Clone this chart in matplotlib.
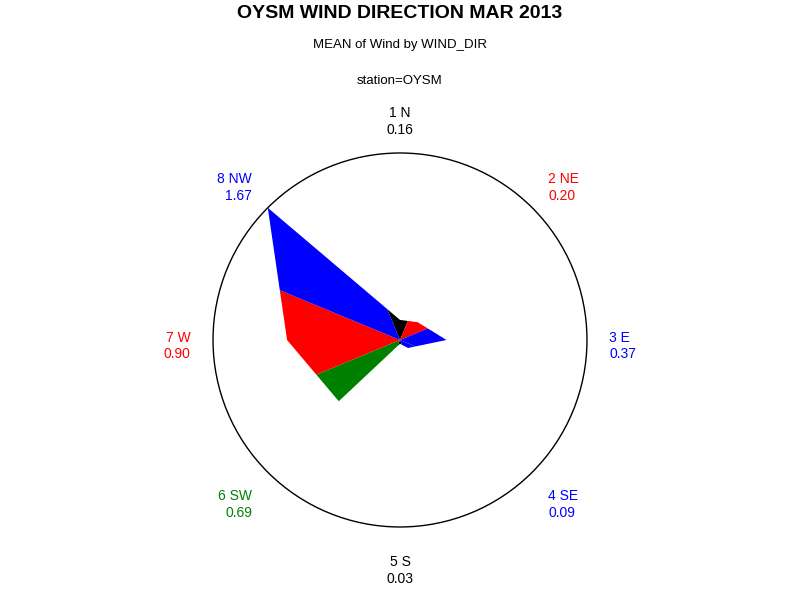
import numpy as np
import matplotlib
matplotlib.use("Agg")
import matplotlib.pyplot as plt
from matplotlib.patches import Circle

plt.rcParams['font.family'] = ['Liberation Sans', 'DejaVu Sans']

# data
directions = ["1 N", "2 NE", "3 E", "4 SE", "5 S", "6 SW", "7 W", "8 NW"]
mean_wind = [0.16, 0.20, 0.37, 0.09, 0.03, 0.69, 0.90, 1.67]
slice_colors = ["black", "red", "blue", "blue", "black", "green", "red", "blue"]
angles_deg = [0, 45, 90, 135, 180, 225, 270, 315]

# radius of the outer circle in data units (the longest spoke is clipped to it)
r_max = 1.49

fig = plt.figure(figsize=(8, 6), dpi=100)
ax = fig.add_axes([0.26625, 0.1217, 0.4675, 0.6233], projection='polar')
ax.set_theta_zero_location('N')
ax.set_theta_direction(-1)
ax.set_ylim(0, r_max)
ax.grid(False)
ax.set_xticks([])
ax.set_yticks([])
ax.tick_params(length=0)
for name in ['start', 'end', 'inner', 'polar']:
    ax.spines[name].set_visible(False)
# outline circle
ax.add_patch(Circle((0.5, 0.5), 0.5, transform=ax.transAxes, fill=False,
                    edgecolor='black', linewidth=1.0, clip_on=False))

theta = np.deg2rad(angles_deg)
r = np.minimum(np.array(mean_wind), r_max)
n = len(r)
half = np.pi / n  # half the angle between two spokes


def mid_radius(a, b):
    # distance along the bisector to the straight line joining two spoke tips
    return 2 * a * b * np.cos(half) / (a + b)


for i in range(n):
    prev_r = mid_radius(r[i - 1], r[i])
    next_r = mid_radius(r[i], r[(i + 1) % n])
    th = [0, theta[i] - half, theta[i], theta[i] + half]
    rr = [0, prev_r, r[i], next_r]
    ax.fill(th, rr, color=slice_colors[i], linewidth=0, antialiased=True)

# labels around the circle (axes fraction, slightly elliptical ring)
for i in range(n):
    s = np.sin(theta[i])
    c = np.cos(theta[i])
    if s > 0.3:
        ha = 'left'
    elif s < -0.3:
        ha = 'right'
    else:
        ha = 'center'
    ax.text(0.5 + 0.56 * s, 0.484 + 0.60 * c, f"{directions[i]}\n{mean_wind[i]:.2f}",
            transform=ax.transAxes, color=slice_colors[i], fontsize=10,
            ha=ha, va='center', multialignment=ha, linespacing=1.25)

fig.text(0.5, 0.992, "OYSM WIND DIRECTION MAR 2013", ha='center', va='top',
         fontsize=14, fontweight='bold')
fig.text(0.5, 0.935, "MEAN of Wind by WIND_DIR", ha='center', va='top', fontsize=9.5)
fig.text(0.5, 0.875, "station=OYSM", ha='center', va='top', fontsize=9.5)

fig.savefig("out.png", dpi=100)
